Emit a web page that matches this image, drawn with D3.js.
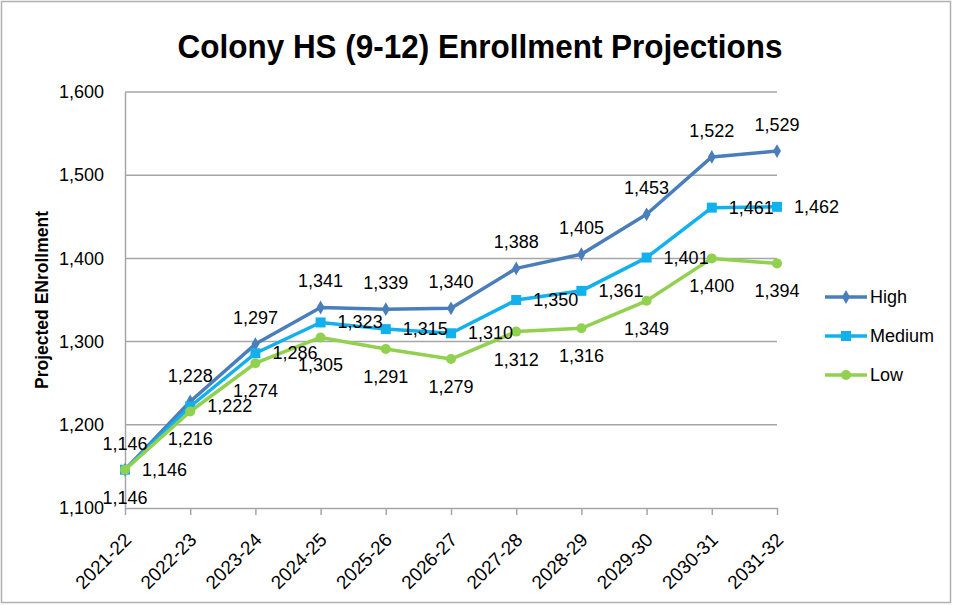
<!DOCTYPE html>
<html><head><meta charset="utf-8">
<script src="https://cdn.jsdelivr.net/npm/d3@7"></script>
<style>
html,body{margin:0;padding:0;background:#fff;}
svg{display:block;font-family:"Liberation Sans",Arial,sans-serif;}
</style></head>
<body>
<svg id="chart" width="953" height="605"></svg>
<script>
const categories = ["2021-22","2022-23","2023-24","2024-25","2025-26","2026-27","2027-28","2028-29","2029-30","2030-31","2031-32"];
const high   = [1146,1228,1297,1341,1339,1340,1388,1405,1453,1522,1529];
const medium = [1146,1222,1286,1323,1315,1310,1350,1361,1401,1461,1462];
const low    = [1146,1216,1274,1305,1291,1279,1312,1316,1349,1400,1394];
const seriesNames = ["High","Medium","Low"];
const yTicks = [1100,1200,1300,1400,1500,1600];

const colors = {High:"#4a7ebb", Medium:"#12b0ec", Low:"#92d050"};
const FS = "18px";
const svg = d3.select("#chart");

// outer border
svg.append("rect").attr("x",1.5).attr("y",1.5).attr("width",949).attr("height",601)
  .attr("fill","#fff").attr("stroke","#b0b0b0").attr("stroke-width",1.5);

const x = d3.scalePoint().domain(categories).range([125,777]);
const y = d3.scaleLinear().domain([1100,1600]).range([508,92]);

// gridlines
svg.append("g").selectAll("line").data(yTicks.slice(1)).join("line")
  .attr("x1",125).attr("x2",777).attr("y1",d=>y(d)).attr("y2",d=>y(d))
  .attr("stroke","#a6a6a6").attr("stroke-width",1.5);

// y axis
const yAxis = svg.append("g").attr("transform","translate(125,0)")
  .call(d3.axisLeft(y).tickValues(yTicks).tickSize(0).tickPadding(21).tickFormat(d3.format(",")));
yAxis.select(".domain").attr("stroke","#a6a6a6").attr("stroke-width",1.5);
yAxis.selectAll("text").attr("font-size",FS).attr("fill","#000").attr("font-family","Liberation Sans, Arial, sans-serif");

// x axis
const xAxis = svg.append("g").attr("transform","translate(0,508)")
  .call(d3.axisBottom(x).tickSize(7).tickSizeOuter(0));
xAxis.select(".domain").attr("stroke","#a6a6a6").attr("stroke-width",1.5);
xAxis.selectAll(".tick line").attr("stroke","#a6a6a6").attr("stroke-width",1.5);
xAxis.selectAll("text").attr("font-size","19px").attr("fill","#000")
  .attr("font-family","Liberation Sans, Arial, sans-serif")
  .attr("text-anchor","end").attr("dy",null).attr("y",0)
  .attr("transform","translate(7,33) rotate(-45)");

// title
svg.append("text").attr("x",480).attr("y",58).attr("text-anchor","middle")
  .attr("font-size","33px").attr("font-weight","bold")
  .attr("textLength",605).attr("lengthAdjust","spacingAndGlyphs")
  .text("Colony HS (9-12) Enrollment Projections");

// y title
svg.append("text").attr("transform","translate(48,300) rotate(-90)")
  .attr("text-anchor","middle").attr("font-size","17.5px").attr("font-weight","bold")
  .text("Projected ENrollment");

const data = {High:high, Medium:medium, Low:low};
const line = d3.line().x((d,i)=>x(categories[i])).y(d=>y(d));

function marker(g, name, cx, cy){
  if(name==="High"){
    g.append("path").attr("d",d3.symbol(d3.symbolDiamond,55)()).attr("transform",`translate(${cx},${cy})`).attr("fill",colors[name]);
  } else if(name==="Medium"){
    g.append("rect").attr("x",cx-5).attr("y",cy-5).attr("width",10).attr("height",10).attr("fill",colors[name]);
  } else {
    g.append("circle").attr("cx",cx).attr("cy",cy).attr("r",5).attr("fill",colors[name]);
  }
}

seriesNames.forEach(name=>{
  const g = svg.append("g");
  g.append("path").datum(data[name]).attr("d",line).attr("fill","none")
    .attr("stroke",colors[name]).attr("stroke-width",3.5).attr("stroke-linejoin","round");
  data[name].forEach((v,i)=>marker(g,name,x(categories[i]),y(v)));
});

// labels
const lbl = svg.append("g").attr("font-size",FS).attr("fill","#000");
high.forEach((v,i)=>lbl.append("text").attr("x",x(categories[i])).attr("y",y(v)-20).attr("text-anchor","middle").text(d3.format(",")(v)));
medium.forEach((v,i)=>lbl.append("text").attr("x",x(categories[i])+17).attr("y",y(v)+6).attr("text-anchor","start").text(d3.format(",")(v)));
low.forEach((v,i)=>lbl.append("text").attr("x",x(categories[i])).attr("y",y(v)+34).attr("text-anchor","middle").text(d3.format(",")(v)));

// legend
const legY = [297,336,375];
seriesNames.forEach((name,k)=>{
  const g = svg.append("g");
  g.append("line").attr("x1",825).attr("x2",867).attr("y1",legY[k]).attr("y2",legY[k])
    .attr("stroke",colors[name]).attr("stroke-width",3.5);
  marker(g,name,846,legY[k]);
  g.append("text").attr("x",870).attr("y",legY[k]+6).attr("font-size",FS).text(name);
});
</script>
</body></html>
